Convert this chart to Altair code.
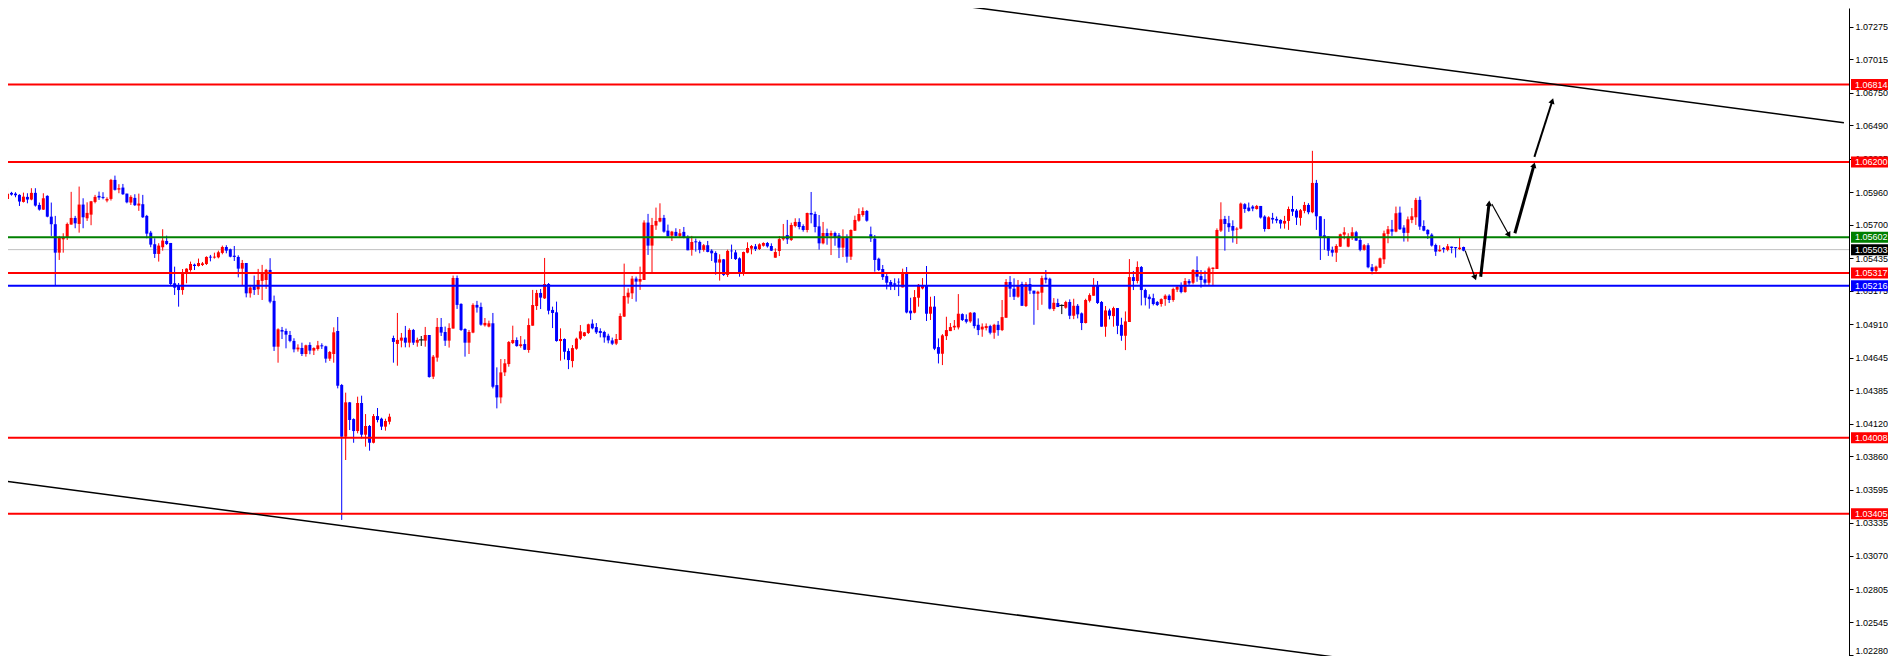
import altair as alt
import pandas as pd

# ---------------- data (prices in points, i.e. price x 100000) ----------------
open_pts = [
    105906, 105954, 105948, 105938, 105882, 105922, 105901, 105954, 105858, 105821,
    105930, 105765, 105705, 105479, 105585, 105601, 105702, 105755, 105707, 105861,
    105752, 105781, 105882, 105930, 105922, 105893, 105906, 106057, 105980, 105996,
    105948, 105877, 105914, 105853, 105864, 105771, 105638, 105546, 105469, 105522,
    105572, 105556, 105236, 105217, 105182, 105310, 105341, 105384, 105373, 105381,
    105389, 105447, 105440, 105442, 105477, 105524, 105506, 105455, 105445, 105352,
    105397, 105156, 105210, 105188, 105255, 105262, 105342, 105096, 104732, 104865,
    104857, 104825, 104778, 104711, 104722, 104674, 104746, 104701, 104714, 104743,
    104735, 104637, 104674, 104857, 104428, 104017, 104290, 104157, 104062, 104285,
    104033, 104102, 103969, 104181, 104160, 104097, 104136, 104801, 104754, 104780,
    104804, 104764, 104865, 104764, 104786, 104780, 104825, 104494, 104645, 104889,
    104849, 104780, 104876, 105278, 105072, 104873, 104764, 104844, 105064, 105048,
    104902, 104892, 104918, 104427, 104329, 104528, 104594, 104761, 104785, 104737,
    104753, 104706, 104899, 105055, 105159, 105116, 105230, 105024, 105005, 104777,
    104793, 104698, 104618, 104716, 104796, 104817, 104841, 104915, 104888, 104857,
    104849, 104819, 104782, 104756, 104785, 104971, 105124, 105156, 105273, 105249,
    105262, 105718, 105535, 105694, 105726, 105755, 105654, 105614, 105644, 105612,
    105644, 105604, 105501, 105569, 105564, 105501, 105538, 105495, 105477, 105400,
    105426, 105302, 105495, 105481, 105434, 105315, 105479, 105511, 105529, 105508,
    105534, 105556, 105532, 105439, 105492, 105585, 105619, 105580, 105691, 105723,
    105691, 105659, 105794, 105786, 105688, 105553, 105635, 105614, 105635, 105617,
    105519, 105603, 105447, 105654, 105733, 105778, 105810, 105625, 105590, 105431,
    105349, 105293, 105246, 105235, 105248, 105203, 105315, 105018, 105002, 105121,
    105195, 105216, 104994, 105050, 104729, 104676, 104816, 104856, 104885, 104885,
    104991, 104951, 104933, 105002, 104906, 104869, 104880, 104896, 104843, 104906,
    104864, 104962, 105246, 105193, 105129, 105230, 105055, 105230, 105177, 105153,
    105161, 105280, 105272, 105031, 105079, 105060, 105042, 105087, 104978, 105057,
    104997, 104920, 105097, 105137, 105214, 105087, 104891, 105020, 104975, 105039,
    104906, 104819, 104928, 105285, 105254, 105365, 105182, 105129, 105118, 105087,
    105071, 105110, 105137, 105103, 105185, 105219, 105166, 105254, 105240, 105341,
    105293, 105267, 105240, 105349, 105349, 105654, 105747, 105713, 105691, 105662,
    105670, 105864, 105837, 105845, 105826, 105850, 105766, 105667, 105755, 105747,
    105739, 105710, 105731, 105826, 105813, 105755, 105811, 105858, 105800, 106033,
    105768, 105617, 105607, 105501, 105479, 105527, 105622, 105527, 105607, 105641,
    105580, 105501, 105538, 105363, 105334, 105360, 105426, 105628, 105665, 105646,
    105797, 105678, 105636, 105739, 105760, 105898, 105691, 105660, 105622, 105540,
    105490, 105516, 105501, 105527, 105524, 105508, 105524,
]
high_pts = [
    105991, 105962, 105959, 105943, 105956, 105951, 105991, 105991, 105877, 105951,
    105935, 105877, 105771, 105612, 105633, 105718, 105962, 105771, 106004, 105911,
    105879, 105890, 105938, 105964, 105959, 105919, 106065, 106091, 106023, 106025,
    105948, 105935, 105943, 105948, 105938, 105779, 105652, 105593, 105554, 105665,
    105614, 105556, 105368, 105238, 105349, 105355, 105408, 105392, 105432, 105405,
    105450, 105461, 105479, 105495, 105535, 105538, 105511, 105532, 105458, 105421,
    105397, 105223, 105297, 105350, 105382, 105350, 105435, 105138, 104878, 104889,
    104876, 104857, 104799, 104751, 104764, 104748, 104767, 104727, 104778, 104759,
    104740, 104698, 104886, 104968, 104436, 104367, 104293, 104163, 104335, 104343,
    104197, 104110, 104197, 104245, 104168, 104160, 104200, 104820, 105000, 104841,
    104897, 104878, 104873, 104804, 104817, 104889, 104825, 104666, 104960, 104960,
    104892, 104918, 105297, 105297, 105077, 104878, 104865, 105077, 105096, 105082,
    104960, 104939, 105000, 104568, 104634, 104634, 104777, 104899, 104806, 104817,
    104790, 104957, 105183, 105183, 105190, 105437, 105238, 105050, 105090, 104878,
    104798, 104719, 104745, 104804, 104904, 104849, 104915, 104949, 104920, 104878,
    104859, 104835, 104804, 104833, 104997, 105392, 105196, 105294, 105289, 105368,
    105736, 105787, 105755, 105837, 105871, 105779, 105702, 105652, 105673, 105667,
    105683, 105617, 105612, 105591, 105575, 105548, 105572, 105506, 105490, 105466,
    105429, 105503, 105543, 105500, 105442, 105487, 105561, 105540, 105548, 105553,
    105561, 105564, 105553, 105513, 105611, 105707, 105739, 105717, 105752, 105752,
    105704, 105797, 105961, 105805, 105778, 105723, 105670, 105654, 105646, 105635,
    105664, 105625, 105664, 105773, 105831, 105839, 105818, 105686, 105619, 105439,
    105381, 105309, 105262, 105275, 105275, 105352, 105365, 105121, 105182, 105230,
    105277, 105373, 105129, 105134, 104798, 104832, 104970, 104920, 104944, 105150,
    104997, 104989, 105007, 105007, 104957, 104917, 104917, 104906, 104914, 104936,
    105103, 105269, 105293, 105275, 105262, 105248, 105246, 105277, 105177, 105177,
    105296, 105341, 105280, 105118, 105113, 105068, 105097, 105108, 105113, 105071,
    105004, 105113, 105156, 105277, 105254, 105095, 105055, 105034, 105050, 105039,
    104962, 105012, 105428, 105333, 105410, 105373, 105193, 105148, 105153, 105095,
    105116, 105148, 105148, 105201, 105222, 105243, 105277, 105269, 105349, 105450,
    105341, 105336, 105368, 105362, 105672, 105879, 105771, 105771, 105736, 105681,
    105877, 105872, 105877, 105856, 105858, 105850, 105776, 105768, 105795, 105766,
    105744, 105771, 105845, 105930, 105826, 105826, 105882, 105872, 106288, 106057,
    105768, 105747, 105607, 105527, 105546, 105630, 105681, 105633, 105681, 105652,
    105607, 105548, 105554, 105389, 105376, 105440, 105654, 105691, 105739, 105845,
    105845, 105697, 105766, 105834, 105914, 105925, 105736, 105665, 105633, 105551,
    105538, 105524, 105548, 105527, 105524, 105601, 105527,
]
low_pts = [
    105885, 105932, 105919, 105850, 105877, 105871, 105895, 105845, 105813, 105818,
    105760, 105612, 105214, 105421, 105479, 105580, 105702, 105673, 105638, 105673,
    105731, 105697, 105871, 105898, 105903, 105879, 105893, 105972, 105951, 105938,
    105871, 105858, 105850, 105811, 105755, 105593, 105522, 105437, 105408, 105495,
    105540, 105214, 105143, 105050, 105145, 105236, 105328, 105341, 105368, 105373,
    105381, 105410, 105432, 105434, 105466, 105474, 105442, 105413, 105283, 105220,
    105124, 105122, 105143, 105143, 105103, 105191, 105077, 104698, 104605, 104793,
    104719, 104767, 104687, 104693, 104658, 104653, 104672, 104666, 104701, 104714,
    104605, 104619, 104605, 104401, 103356, 103832, 104070, 103969, 104044, 104004,
    103938, 103906, 103964, 104131, 104070, 104065, 104115, 104605, 104581, 104727,
    104727, 104727, 104746, 104732, 104738, 104732, 104486, 104475, 104613, 104817,
    104738, 104725, 104876, 105032, 104857, 104653, 104674, 104839, 105003, 104899,
    104892, 104886, 104401, 104242, 104282, 104499, 104573, 104753, 104732, 104724,
    104706, 104684, 104899, 105024, 105031, 105111, 104989, 104880, 104772, 104621,
    104631, 104554, 104568, 104708, 104785, 104812, 104833, 104870, 104833, 104806,
    104764, 104759, 104745, 104745, 104785, 104968, 105074, 105111, 105090, 105183,
    105262, 105461, 105323, 105660, 105720, 105638, 105607, 105572, 105607, 105601,
    105593, 105498, 105455, 105487, 105474, 105487, 105482, 105413, 105304, 105257,
    105294, 105286, 105429, 105421, 105288, 105296, 105474, 105466, 105492, 105500,
    105527, 105519, 105492, 105439, 105452, 105574, 105548, 105572, 105680, 105664,
    105646, 105640, 105712, 105640, 105503, 105545, 105542, 105460, 105534, 105436,
    105444, 105399, 105421, 105651, 105725, 105765, 105725, 105564, 105328, 105333,
    105262, 105187, 105182, 105182, 105134, 105203, 104997, 104944, 104997, 105050,
    105187, 104936, 104944, 104705, 104599, 104586, 104785, 104856, 104864, 104869,
    104936, 104917, 104922, 104877, 104824, 104811, 104861, 104830, 104795, 104819,
    104856, 104962, 105126, 105103, 105121, 105055, 105047, 105150, 104906, 105023,
    105065, 105235, 105028, 105015, 105047, 104991, 105034, 104951, 104951, 104957,
    104864, 104917, 105084, 105137, 105071, 104891, 104811, 104949, 104891, 104832,
    104779, 104705, 104928, 105182, 105235, 105060, 105060, 105034, 105060, 105055,
    105050, 105057, 105079, 105089, 105166, 105156, 105161, 105222, 105227, 105248,
    105201, 105224, 105216, 105214, 105349, 105643, 105495, 105644, 105559, 105548,
    105665, 105795, 105805, 105808, 105821, 105750, 105646, 105665, 105710, 105713,
    105670, 105670, 105660, 105771, 105699, 105694, 105792, 105784, 105792, 105660,
    105421, 105501, 105453, 105448, 105405, 105524, 105585, 105522, 105580, 105572,
    105490, 105495, 105355, 105307, 105323, 105355, 105389, 105554, 105612, 105641,
    105660, 105567, 105567, 105713, 105699, 105660, 105649, 105588, 105527, 105453,
    105487, 105479, 105490, 105474, 105440, 105501, 105490,
]
close_pts = [
    105946, 105940, 105935, 105885, 105924, 105901, 105954, 105853, 105821, 105911,
    105765, 105705, 105479, 105601, 105601, 105707, 105755, 105712, 105861, 105760,
    105795, 105887, 105922, 105917, 105914, 105906, 106057, 105978, 105991, 105943,
    105879, 105922, 105856, 105869, 105760, 105630, 105543, 105469, 105535, 105575,
    105548, 105230, 105201, 105182, 105310, 105352, 105389, 105373, 105397, 105394,
    105445, 105440, 105447, 105482, 105524, 105495, 105447, 105445, 105352, 105397,
    105156, 105202, 105183, 105262, 105323, 105342, 105090, 104732, 104870, 104852,
    104828, 104778, 104711, 104725, 104674, 104743, 104701, 104722, 104743, 104735,
    104637, 104690, 104846, 104422, 104017, 104290, 104150, 104062, 104285, 104033,
    104102, 103969, 104181, 104150, 104097, 104142, 104176, 104770, 104786, 104804,
    104764, 104865, 104764, 104786, 104786, 104825, 104491, 104653, 104889, 104844,
    104780, 104881, 105278, 105064, 104865, 104764, 104849, 105064, 105043, 104907,
    104921, 104918, 104414, 104329, 104528, 104600, 104769, 104785, 104737, 104751,
    104708, 104904, 105063, 105159, 105122, 105230, 105018, 105000, 104777, 104793,
    104692, 104626, 104721, 104796, 104854, 104846, 104910, 104878, 104846, 104841,
    104806, 104782, 104756, 104793, 104976, 105135, 105161, 105273, 105249, 105270,
    105718, 105535, 105699, 105731, 105755, 105646, 105609, 105646, 105612, 105633,
    105599, 105498, 105564, 105561, 105501, 105538, 105485, 105474, 105400, 105426,
    105302, 105493, 105490, 105428, 105322, 105484, 105516, 105532, 105508, 105545,
    105556, 105529, 105495, 105484, 105587, 105598, 105585, 105699, 105723, 105683,
    105659, 105794, 105781, 105683, 105553, 105635, 105609, 105635, 105603, 105519,
    105603, 105447, 105659, 105739, 105786, 105810, 105733, 105593, 105421, 105341,
    105285, 105240, 105219, 105224, 105243, 105315, 105004, 104997, 105126, 105224,
    105222, 104994, 105050, 104716, 104676, 104822, 104864, 104888, 104898, 104994,
    104944, 104930, 105002, 104896, 104864, 104891, 104896, 104843, 104906, 104864,
    104967, 105246, 105193, 105129, 105214, 105057, 105230, 105177, 105153, 105169,
    105277, 105264, 105034, 105081, 105047, 105060, 105087, 104978, 105057, 104989,
    104920, 105103, 105142, 105214, 105079, 104891, 105020, 104978, 105039, 104898,
    104819, 104933, 105285, 105254, 105365, 105182, 105121, 105110, 105071, 105063,
    105110, 105137, 105103, 105190, 105209, 105166, 105254, 105235, 105341, 105288,
    105262, 105240, 105354, 105360, 105659, 105744, 105707, 105681, 105654, 105670,
    105869, 105826, 105811, 105829, 105850, 105758, 105667, 105760, 105742, 105734,
    105710, 105731, 105826, 105805, 105758, 105816, 105858, 105800, 106033, 105768,
    105607, 105601, 105495, 105479, 105532, 105625, 105641, 105607, 105641, 105575,
    105501, 105538, 105363, 105334, 105368, 105434, 105633, 105665, 105646, 105792,
    105665, 105636, 105744, 105768, 105898, 105686, 105654, 105625, 105535, 105487,
    105501, 105506, 105530, 105516, 105514, 105519, 105495,
]

# horizontal levels drawn on the chart
level_prices = [1.06814, 1.06200, 1.05602, 1.05317, 1.05216, 1.04008, 1.03405]
level_colors = ["#ff0000", "#ff0000", "#008000", "#ff0000", "#0000ff", "#ff0000", "#ff0000"]
bid_price = 1.05503

# price axis ticks
tick_values = [1.07275, 1.07015, 1.06750, 1.06490, 1.06225, 1.05960, 1.05700, 1.05435,
               1.05175, 1.04910, 1.04645, 1.04385, 1.04120, 1.03860, 1.03595, 1.03335,
               1.03070, 1.02805, 1.02545, 1.02280]

# trend channel lines (bar index, price) - parallel falling channel
chan_id = ["up", "up", "down", "down"]
chan_bar = [228.8, 461.6, -0.7, 348.6]
chan_price = [1.07486, 1.06511, 1.03665, 1.02204]

# projection arrows (bar index, price)
arr_bar0 = [366.4, 370.3, 373.1, 378.9, 383.8]
arr_p0 = [1.05495, 1.05288, 1.05866, 1.05633, 1.06240]
arr_bar1 = [368.9, 372.4, 377.4, 383.7, 388.3]
arr_p1 = [1.05280, 1.05871, 1.05619, 1.06175, 1.06684]
arr_w = [1.2, 3.0, 1.2, 3.0, 2.0]
arr_ang = [160, 6, 151, 15, 18]

# ---------------- layout ----------------
W = 1841
H = 648
RIGHT = 39          # total svg width 1880 = page content width (no flex shrink)
PX_PER_BAR = 4.0
PX_PER_PRICE = 12589.0
X0 = 1.375
Y_TOP = 1.07486 - 8 / PX_PER_PRICE
Y_DOMAIN = [Y_TOP - H / PX_PER_PRICE, Y_TOP]
X_DOMAIN = [X0, X0 + W / PX_PER_BAR]
FONT = "Liberation Sans"
FS = 9
TAG_HALF = 5.5 / PX_PER_PRICE

xs = alt.Scale(domain=X_DOMAIN, nice=False, zero=False)
ys = alt.Scale(domain=Y_DOMAIN, nice=False, zero=False)

candles = pd.DataFrame({
    "i": list(range(len(open_pts))),
    "o": [v / 1e5 for v in open_pts],
    "h": [v / 1e5 for v in high_pts],
    "l": [v / 1e5 for v in low_pts],
    "c": [v / 1e5 for v in close_pts],
})
candles["col"] = ["#ff0000" if c > o else ("#0000ff" if c < o else "#000000")
                  for o, c in zip(candles["o"], candles["c"])]

levels = pd.DataFrame({"p": level_prices, "col": level_colors})
bid = pd.DataFrame({"p": [bid_price]})

tag_prices = level_prices + [bid_price]
tag_colors = level_colors + ["#000000"]
tags = pd.DataFrame({"p": tag_prices, "col": tag_colors,
                     "label": [f"{p:.5f}" for p in tag_prices]})
tags["top"] = tags["p"] + TAG_HALF
tags["bot"] = tags["p"] - TAG_HALF

chan = pd.DataFrame({"id": chan_id, "i": chan_bar, "p": chan_price})
arrows = pd.DataFrame({"i0": arr_bar0, "p0": arr_p0, "i1": arr_bar1, "p1": arr_p1,
                       "w": arr_w, "ang": arr_ang})

X = alt.X("i:Q", scale=xs, axis=None)

y_axis = alt.Axis(orient="right", values=tick_values, format=".5f", title=None,
                  labelFont=FONT, labelFontSize=FS, labelColor="#000000",
                  labelBaseline=alt.condition("datum.value < 1.0229",
                                              alt.value("bottom"), alt.value("middle")),
                  tickColor="#000000", domainColor="#000000", tickSize=4,
                  labelPadding=2, labelOverlap=False, labelFlush=False, grid=False,
                  zindex=0, domainWidth=1, tickWidth=1)


def Yq(field):
    return alt.Y(field, scale=ys, axis=y_axis)


bid_rule = alt.Chart(bid).mark_rule(color="#c0c0c0", strokeWidth=1).encode(y=Yq("p:Q"))

wicks = alt.Chart(candles).mark_rule(strokeWidth=1).encode(
    x=X, y=Yq("l:Q"), y2="h:Q", color=alt.Color("col:N", scale=None))

bodies = alt.Chart(candles).mark_bar(size=3).encode(
    x=X, y=Yq("o:Q"), y2="c:Q", color=alt.Color("col:N", scale=None))

doji = alt.Chart(candles).transform_filter("datum.o == datum.c").mark_tick(
    orient="horizontal", size=5, thickness=1, opacity=1).encode(
    x=X, y=Yq("o:Q"), color=alt.Color("col:N", scale=None))

level_rules = alt.Chart(levels).mark_rule(strokeWidth=2).encode(
    y=Yq("p:Q"), color=alt.Color("col:N", scale=None))

channel = alt.Chart(chan).mark_line(color="#000000", strokeWidth=1.5, clip=True).encode(
    x=X, y=Yq("p:Q"), detail="id:N")

arrow_lines = alt.Chart(arrows).mark_rule(color="#000000").encode(
    x=alt.X("i0:Q", scale=xs, axis=None), x2="i1:Q",
    y=Yq("p0:Q"), y2="p1:Q",
    strokeWidth=alt.StrokeWidth("w:Q", scale=None))

arrow_heads = alt.Chart(arrows).mark_point(shape="triangle-up", filled=True, color="#000000",
                                           opacity=1, size=40).encode(
    x=alt.X("i1:Q", scale=xs, axis=None), y=Yq("p1:Q"),
    angle=alt.Angle("ang:Q", scale=None))

tag_rect = alt.Chart(tags).mark_rect().encode(
    x=alt.value(W + 2), x2=alt.value(W + RIGHT),
    y=Yq("top:Q"), y2="bot:Q",
    color=alt.Color("col:N", scale=None))

tag_text = alt.Chart(tags).mark_text(align="left", baseline="middle", font=FONT,
                                     fontSize=FS, color="#ffffff").encode(
    x=alt.value(W + 6), y=Yq("p:Q"), text="label:N")

chart = alt.layer(
    bid_rule, wicks, bodies, doji, level_rules, channel, arrow_lines, arrow_heads,
    tag_rect, tag_text
).properties(
    width=W, height=H,
    autosize=alt.AutoSizeParams(type="none"),
    padding={"left": 0, "top": 0, "right": RIGHT, "bottom": 0},
    background="#ffffff",
).configure_view(strokeWidth=0)

chart.save("out.html", embed_options={"renderer": "svg", "actions": False})
